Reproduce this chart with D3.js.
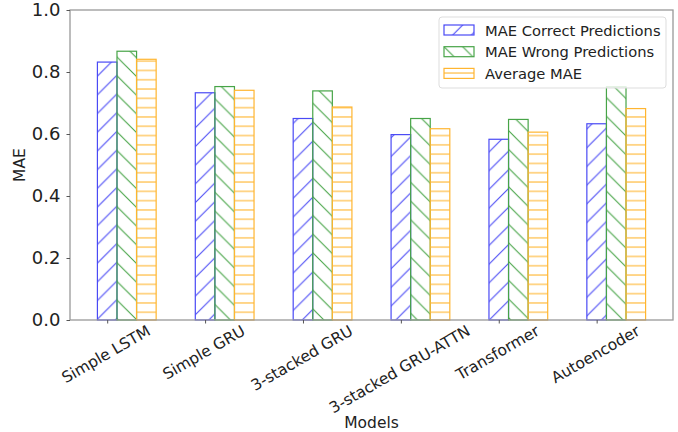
<!DOCTYPE html>
<html>
<head>
<meta charset="utf-8">
<script src="https://cdn.jsdelivr.net/npm/d3@7"></script>
<style>
  body { margin: 0; background: #fff; }
  svg text { font-family: "DejaVu Sans", sans-serif; fill: #222; }
</style>
</head>
<body>
<div id="chart"></div>
<script>
// data
const models = ['Simple LSTM', 'Simple GRU', '3-stacked GRU', '3-stacked GRU-ATTN', 'Transformer', 'Autoencoder'];
const maeCorrect = [0.832, 0.733, 0.650, 0.598, 0.583, 0.633];
const maeWrong = [0.867, 0.753, 0.739, 0.650, 0.647, 0.752];
const maeAverage = [0.841, 0.741, 0.687, 0.617, 0.606, 0.682];
const seriesNames = ['MAE Correct Predictions', 'MAE Wrong Predictions', 'Average MAE'];
const yTicks = [0.0, 0.2, 0.4, 0.6, 0.8, 1.0];

const width = 678, height = 432;
const margin = { top: 10, right: 5, bottom: 112, left: 70 };
const plotW = width - margin.left - margin.right;
const plotH = height - margin.top - margin.bottom;

const series = [
  { name: seriesNames[0], values: maeCorrect, color: '#4a4af5', hatch: 'fwd' },
  { name: seriesNames[1], values: maeWrong, color: '#47a447', hatch: 'back' },
  { name: seriesNames[2], values: maeAverage, color: '#ffb530', hatch: 'horiz' }
];

const barW = 0.2;
// matplotlib style: bars at i, i+0.2, i+0.4, ticks at i, 5% margins
const lo = -barW / 2, hi = models.length - 1 + 2 * barW + barW / 2;
const pad = (hi - lo) * 0.05;
const x = d3.scaleLinear().domain([lo - pad, hi + pad]).range([0, plotW]);
const y = d3.scaleLinear().domain([0, 1.0]).range([plotH, 0]);

const svg = d3.select('#chart').append('svg')
  .attr('width', width)
  .attr('height', height);

// hatch patterns
const defs = svg.append('defs');
series.forEach((s, i) => {
  const size = s.hatch === 'horiz' ? 9.3 : 18.7;
  const p = defs.append('pattern')
    .attr('id', 'hatch' + i)
    .attr('patternUnits', 'userSpaceOnUse')
    .attr('width', size)
    .attr('height', size);
  let d;
  if (s.hatch === 'fwd') d = `M0,${size} L${size},0 M-2,2 L2,-2 M${size - 2},${size + 2} L${size + 2},${size - 2}`;
  else if (s.hatch === 'back') d = `M0,0 L${size},${size} M-2,${size - 2} L2,${size + 2} M${size - 2},-2 L${size + 2},2`;
  else d = `M0,${size / 2} L${size},${size / 2}`;
  p.append('path')
    .attr('d', d)
    .attr('stroke', s.color)
    .attr('stroke-width', 1.1)
    .attr('fill', 'none');
});

const g = svg.append('g')
  .attr('transform', `translate(${margin.left},${margin.top})`);

// bars
series.forEach((s, si) => {
  g.append('g').selectAll('rect')
    .data(s.values)
    .enter()
    .append('rect')
    .attr('x', (d, i) => x(i + si * barW - barW / 2))
    .attr('width', x(barW) - x(0))
    .attr('y', d => y(d))
    .attr('height', d => y(0) - y(d))
    .attr('fill', `url(#hatch${si})`)
    .attr('stroke', s.color)
    .attr('stroke-width', 1.2);
});

// frame
g.append('rect')
  .attr('width', plotW)
  .attr('height', plotH)
  .attr('fill', 'none')
  .attr('stroke', '#999')
  .attr('stroke-width', 1.3);

// y axis
const yAxis = g.append('g')
  .call(d3.axisLeft(y).tickValues(yTicks).tickFormat(d3.format('.1f')).tickSize(3.5).tickPadding(6));
yAxis.select('.domain').remove();
yAxis.selectAll('line').attr('stroke', '#555');
yAxis.selectAll('text').style('font-size', '18px').style('font-family', '"DejaVu Sans"').attr('fill', '#222');

// x axis
const xAxis = g.append('g')
  .attr('transform', `translate(0,${plotH})`)
  .call(d3.axisBottom(x).tickValues(d3.range(models.length)).tickFormat('').tickSize(3.5));
xAxis.select('.domain').remove();
xAxis.selectAll('line').attr('stroke', '#555');

// rotated category labels (centered, rotation 30)
const ang = 30 * Math.PI / 180;
const fs = 15.5;
models.forEach((m, i) => {
  const t = g.append('text')
    .text(m)
    .style('font-size', fs + 'px')
    .attr('text-anchor', 'middle')
    .attr('dominant-baseline', 'central');
  const w = t.node().getComputedTextLength();
  const bh = w * Math.sin(ang) + fs * Math.cos(ang);
  const cy = plotH + 3 + bh / 2;
  t.attr('transform', `translate(${x(i) - 1},${cy}) rotate(-30)`);
});

// axis titles
svg.append('text')
  .attr('x', margin.left + plotW / 2)
  .attr('y', 428)
  .attr('text-anchor', 'middle')
  .style('font-size', '15.5px')
  .text('Models');

svg.append('text')
  .attr('transform', `translate(25,${margin.top + plotH / 2}) rotate(-90)`)
  .attr('text-anchor', 'middle')
  .style('font-size', '15.5px')
  .text('MAE');

// legend
const legend = svg.append('g').attr('transform', 'translate(439,17)');
legend.append('rect')
  .attr('width', 227)
  .attr('height', 71)
  .attr('rx', 3)
  .attr('fill', 'rgba(255,255,255,0.8)')
  .attr('stroke', '#ddd');

const items = legend.selectAll('.legend-item')
  .data(series)
  .enter()
  .append('g')
  .attr('class', 'legend-item')
  .attr('transform', (d, i) => `translate(5,${8 + i * 21.7})`);

items.append('rect')
  .attr('width', 30)
  .attr('height', 10)
  .attr('fill', (d, i) => `url(#hatch${i})`)
  .attr('stroke', d => d.color)
  .attr('stroke-width', 1.2);

items.append('text')
  .attr('x', 41)
  .attr('y', 5)
  .attr('dominant-baseline', 'central')
  .style('font-size', '14.7px')
  .text(d => d.name);
</script>
</body>
</html>
